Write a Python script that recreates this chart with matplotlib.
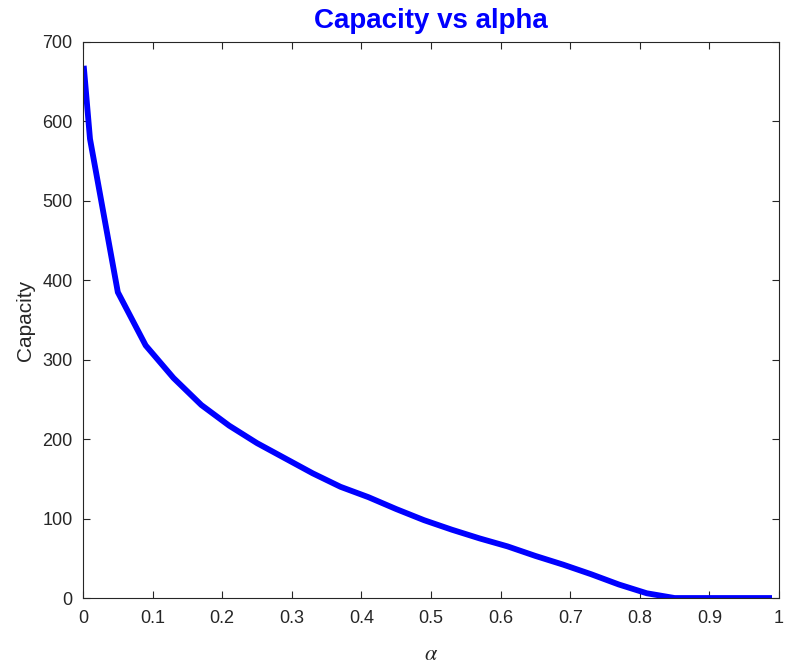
import matplotlib
matplotlib.use("Agg")
import matplotlib.pyplot as plt

alpha = [0.001, 0.01, 0.05, 0.09, 0.13, 0.17, 0.21, 0.25, 0.29, 0.33, 0.37,
         0.41, 0.45, 0.49, 0.53, 0.57, 0.61, 0.65, 0.69, 0.73, 0.77, 0.81,
         0.85, 0.89, 0.93, 0.97, 0.99]
capacity = [670, 578, 385, 318, 277, 243, 217, 195, 176, 157, 140,
            127, 112, 98, 86, 75, 65, 53, 42, 30, 17, 6,
            0, 0, 0, 0, 0]
xticks = [0, 0.1, 0.2, 0.3, 0.4, 0.5, 0.6, 0.7, 0.8, 0.9, 1]
xticklabels = ["0", "0.1", "0.2", "0.3", "0.4", "0.5", "0.6", "0.7", "0.8", "0.9", "1"]
yticks = [0, 100, 200, 300, 400, 500, 600, 700]

plt.rcParams['font.family'] = ['Liberation Sans', 'DejaVu Sans']
plt.rcParams['mathtext.fontset'] = 'stix'
gray = '#262626'

fig = plt.figure(figsize=(7.87, 6.63), dpi=100)
ax = fig.add_axes([0.1055, 0.098, 0.8843, 0.8387])
ax.plot(alpha, capacity, color='#0000ff', linewidth=4.2, solid_capstyle='butt',
        solid_joinstyle='miter')
ax.set_xlim(0, 1)
ax.set_ylim(0, 700)
ax.set_xticks(xticks)
ax.set_xticklabels(xticklabels)
ax.set_yticks(yticks)
ax.tick_params(direction='in', length=5, width=0.8, colors=gray, labelsize=13,
               top=True, right=True, labeltop=False, labelright=False)
ax.tick_params(axis='x', pad=8.4)
ax.tick_params(axis='y', pad=7.5)
for s in ax.spines.values():
    s.set_color(gray)
    s.set_linewidth(0.8)
ax.set_title('Capacity vs alpha', color='#0000ff', fontweight='bold', fontsize=20, pad=10)
ax.set_xlabel(r'$\alpha$', fontsize=16, color=gray)
ax.xaxis.label.set_va('center')
ax.xaxis.set_label_coords(0.5, -0.1007)
ax.set_ylabel('Capacity', fontsize=15, color=gray)
ax.yaxis.label.set_va('center')
ax.yaxis.label.set_ha('center')
ax.yaxis.set_label_coords(-0.0833, 0.5)
fig.savefig('out.png', dpi=100)
